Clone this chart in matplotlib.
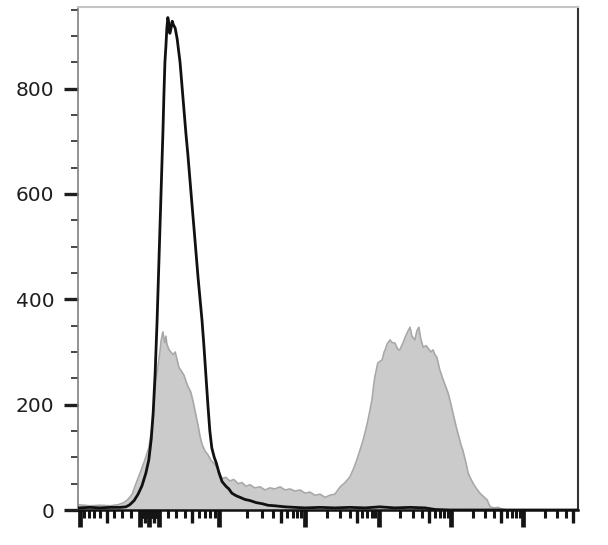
import numpy as np
import matplotlib
matplotlib.use("Agg")
import matplotlib.pyplot as plt
from matplotlib import lines as mlines
from matplotlib.ticker import FixedLocator, MultipleLocator

# ── logicle display (fitted to the axis of the reference) ─────────────
T_TOP = 5.8e6
M_DEC = 6.94
W_DEC = 0.99
N_CHANNELS = 1024

# ── histogram data, x in display channels (0..1024) ───────────────────
black_ch = [0, 25, 45, 66, 86, 98, 106, 115, 123, 131, 139, 145, 150, 154, 158,
            162, 166, 170, 174, 176, 178, 180, 182, 184, 186, 188, 190, 193, 195,
            199, 203, 205, 209, 213, 217, 221, 225, 229, 233, 238, 242, 246, 250,
            254, 258, 262, 266, 270, 274, 279, 283, 289, 295, 303, 309, 315, 324,
            332, 342, 352, 365, 377, 389, 403, 424, 444, 465, 496, 526, 557, 588,
            618, 649, 680, 711, 731, 762, 1024]
black_counts = [4, 5, 4, 5, 5, 6, 10, 18, 30, 46, 70, 95, 135, 185, 260,
                360, 480, 600, 720, 790, 850, 880, 915, 935, 925, 905, 912, 928, 922,
                915, 895, 880, 850, 805, 760, 715, 675, 630, 585, 530, 485, 440, 400,
                360, 310, 255, 200, 150, 118, 100, 90, 70, 54, 45, 40, 32, 27,
                24, 20, 18, 14, 12, 9, 8, 6, 5, 4, 5, 4, 5, 4,
                6, 4, 5, 4, 1, 0, 0]

gray_ch = [0, 25, 45, 66, 82, 94, 102, 111, 117, 127, 137, 145, 152, 156, 160,
           164, 168, 170, 172, 174, 176, 178, 180, 182, 186, 190, 195, 199, 203,
           207, 211, 217, 221, 225, 231, 236, 242, 246, 250, 254, 260, 266, 272,
           279, 285, 291, 295, 303, 311, 319, 328, 336, 344, 352, 362, 373, 383,
           393, 403, 414, 424, 434, 444, 455, 465, 475, 485, 496, 506, 516, 526,
           537, 547, 557, 565, 571, 578, 584, 590, 594, 598, 602, 606, 608, 612,
           614, 618, 623, 627, 629, 633, 639, 643, 649, 655, 659, 666, 670, 676,
           680, 684, 690, 694, 698, 702, 707, 713, 717, 723, 727, 731, 735, 741,
           748, 754, 758, 764, 768, 774, 778, 784, 788, 795, 799, 805, 809, 815,
           823, 831, 838, 844, 852, 860, 868, 877, 1024]
gray_counts = [10, 8, 9, 8, 10, 14, 20, 30, 46, 70, 95, 118, 160, 209, 250,
               275, 302, 320, 330, 338, 325, 318, 330, 315, 305, 300, 295, 300, 285,
               270, 265, 256, 245, 235, 224, 205, 178, 160, 140, 125, 112, 105, 95,
               88, 80, 68, 60, 62, 55, 58, 50, 52, 45, 48, 42, 44, 38,
               42, 40, 44, 38, 40, 36, 38, 32, 34, 28, 30, 24, 28, 30,
               44, 52, 63, 80, 95, 115, 133, 155, 171, 190, 209, 240, 253, 270,
               279, 282, 285, 300, 304, 315, 323, 318, 317, 305, 304, 318, 328, 340,
               347, 330, 323, 340, 347, 325, 309, 312, 307, 300, 304, 295, 290, 266,
               247, 232, 222, 200, 184, 160, 146, 125, 114, 88, 70, 58, 51, 42,
               32, 25, 19, 6, 4, 5, 2, 0, 0]

y_major = [0, 200, 400, 600, 800]
x_major = [-100, -10, 0, 10, 100, 1e3, 1e4, 1e5, 1e6]

# ── logicle transform ────────────────────────────────────────────────
m = M_DEC * np.log(10)
w = W_DEC * np.log(10)
ps = np.linspace(1.0001, 50, 200000)
p = np.interp(w, 2 * ps * np.log(ps) / (ps + 1), ps)
K = T_TOP * np.exp(-(m - w))


def to_value(y):
    u = np.asarray(y, float) - w
    a = np.abs(u)
    return np.sign(u) * K * (np.exp(a) - p**2 * np.exp(-a / p) + p**2 - 1)


y_grid = np.linspace(-m, 1.6 * m, 400001)
v_grid = to_value(y_grid)


def to_display(v):
    return np.interp(np.asarray(v, float), v_grid, y_grid)


bx = to_value(np.array(black_ch) / N_CHANNELS * m)
gx = to_value(np.array(gray_ch) / N_CHANNELS * m)

# tick positions: decades with 2..9 minors, 5x gets a mid-length tick
x_minor, x_mid = [], []
for k in range(0, 7):
    for j in range(1, 10):
        for s in ([-1, 1] if k < 2 else [1]):
            v = s * j * 10**k
            if v in x_major or v > T_TOP:
                continue
            (x_mid if j == 5 else x_minor).append(v)

fig = plt.figure(figsize=(6.08, 5.45), dpi=100)
ax = fig.add_axes([78 / 608, 35 / 545, 500 / 608, 503 / 545])
ax.set_xscale("function", functions=(to_display, to_value))

ax.fill_between(gx, 0, gray_counts, color="#cbcbcb", lw=0, zorder=1)
ax.plot(gx, gray_counts, color="#a8a8a8", lw=1.2, zorder=2)
ax.plot(bx, black_counts, color="#111111", lw=2.0, zorder=3)

ax.set_xlim(to_value(0), to_value(m))
ax.set_ylim(0, 955)

ax.set_yticks(y_major)
ax.yaxis.set_minor_locator(MultipleLocator(50))
ax.set_xticks(x_major)
ax.xaxis.set_minor_locator(FixedLocator(x_minor))
ax.tick_params(axis="x", which="both", labelbottom=False, direction="out", color="#151515")
ax.tick_params(axis="x", which="major", length=12, width=3.4)
ax.tick_params(axis="x", which="minor", length=6, width=2.2)
ax.plot(x_mid, np.zeros(len(x_mid)), ls="none", marker=mlines.TICKDOWN,
        markersize=9, mew=2.4, color="#151515",
        transform=ax.get_xaxis_transform(), clip_on=False)

ax.tick_params(axis="y", which="major", length=10, width=2.4, pad=7,
               labelsize=14.5, labelcolor="#1e1e1e", color="#1e1e1e")
ax.tick_params(axis="y", which="minor", length=5, width=1.2, color="#2a2a2a")

ax.spines["left"].set_color("#808080")
ax.spines["left"].set_linewidth(1.2)
ax.spines["top"].set_color("#c4c4c4")
ax.spines["top"].set_linewidth(1.5)
ax.spines["right"].set_color("#333333")
ax.spines["right"].set_linewidth(1.5)
ax.spines["bottom"].set_color("#111111")
ax.spines["bottom"].set_linewidth(1.8)

fig.savefig("out.png", dpi=100)
